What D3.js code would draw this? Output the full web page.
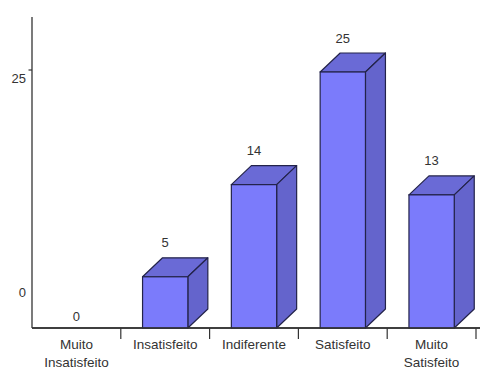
<!DOCTYPE html>
<html>
<head>
<meta charset="utf-8">
<script src="https://cdn.jsdelivr.net/npm/d3@7"></script>
<style>
  html, body { margin: 0; padding: 0; background: #fff; }
  svg { display: block; font-family: "Liberation Sans", Arial, sans-serif; }
</style>
</head>
<body>
<svg id="chart" width="480" height="368"></svg>
<script>
// Satisfaction levels and their counts
const categories = [["Muito", "Insatisfeito"], ["Insatisfeito"], ["Indiferente"], ["Satisfeito"], ["Muito", "Satisfeito"]];
const counts = [0, 5, 14, 25, 13];
const axisTicks = [0, 25];

const svg = d3.select("#chart");
const W = 480, H = 368;
const left = 32, right = 476, baseY = 328, topY = 17;
const depthX = 20, depthY = 19;

const keys = categories.map(c => c.join(" "));
const x = d3.scaleBand().domain(keys).range([left, right]).padding(0);
const y = d3.scaleLinear().domain([0, 25]).range([baseY, 72]);
// the tick labels sit on the back wall, with their own spacing
const yLabel = d3.scaleLinear().domain([0, 25]).range([292, 78]);

const barW = x.bandwidth() * 0.51;
const ink = "#333";
const edge = "#23234a";

// axes lines
svg.append("line").attr("x1", left).attr("x2", left).attr("y1", topY).attr("y2", baseY)
  .attr("stroke", ink).attr("stroke-width", 1.3);
svg.append("line").attr("x1", left).attr("x2", W).attr("y1", baseY).attr("y2", baseY)
  .attr("stroke", ink).attr("stroke-width", 1.3);

// category boundary ticks
const bounds = keys.slice(1).map(k => x(k)).concat([right]);
svg.selectAll("line.xtick").data(bounds).enter().append("line")
  .attr("class", "xtick")
  .attr("x1", d => d).attr("x2", d => d)
  .attr("y1", baseY).attr("y2", baseY + 11)
  .attr("stroke", ink).attr("stroke-width", 1.2);

// y tick mark (top value) and labels
svg.append("line").attr("x1", left - 3.5).attr("x2", left).attr("y1", y(25) - 2).attr("y2", y(25) - 2)
  .attr("stroke", ink).attr("stroke-width", 1.2);
svg.selectAll("text.ylab").data(axisTicks).enter().append("text")
  .attr("class", "ylab")
  .attr("x", 26).attr("y", d => yLabel(d))
  .attr("text-anchor", "end").attr("dominant-baseline", "central")
  .attr("font-size", 13).attr("fill", ink)
  .text(d => d);

// category labels
const catG = svg.selectAll("g.cat").data(categories).enter().append("g").attr("class", "cat");
catG.each(function(lines, i) {
  const cx = x(keys[i]) + x.bandwidth() / 2;
  d3.select(this).selectAll("text").data(lines).enter().append("text")
    .attr("x", cx).attr("y", (d, j) => 344 + j * 18)
    .attr("text-anchor", "middle").attr("dominant-baseline", "central")
    .attr("font-size", 13.5).attr("fill", ink)
    .text(d => d);
});

// 3D bars
counts.forEach((v, i) => {
  const cx = x(keys[i]) + x.bandwidth() / 2;
  const x0 = cx - barW / 2, x1 = cx + barW / 2;
  const yt = y(v);
  const g = svg.append("g");
  if (v > 0) {
    // top face
    g.append("path")
      .attr("d", `M${x0},${yt} L${x0 + depthX},${yt - depthY} L${x1 + depthX},${yt - depthY} L${x1},${yt} Z`)
      .attr("fill", "#6a6ad6").attr("stroke", edge).attr("stroke-width", 1.2).attr("stroke-linejoin", "round");
    // side face
    g.append("path")
      .attr("d", `M${x1},${yt} L${x1 + depthX},${yt - depthY} L${x1 + depthX},${baseY - depthY} L${x1},${baseY} Z`)
      .attr("fill", "#6464cc").attr("stroke", edge).attr("stroke-width", 1.2).attr("stroke-linejoin", "round");
    // front face
    g.append("rect")
      .attr("x", x0).attr("y", yt).attr("width", barW).attr("height", baseY - yt)
      .attr("fill", "#7b7bfb").attr("stroke", edge).attr("stroke-width", 1.2);
  }
  // value label
  g.append("text")
    .attr("x", cx).attr("y", v > 0 ? yt - 34 : baseY - 12)
    .attr("text-anchor", "middle").attr("dominant-baseline", "central")
    .attr("font-size", 13).attr("fill", ink)
    .text(v);
});

// redraw the baseline over the bar bottoms
svg.append("line").attr("x1", left).attr("x2", W).attr("y1", baseY).attr("y2", baseY)
  .attr("stroke", ink).attr("stroke-width", 1.3);
</script>
</body>
</html>
